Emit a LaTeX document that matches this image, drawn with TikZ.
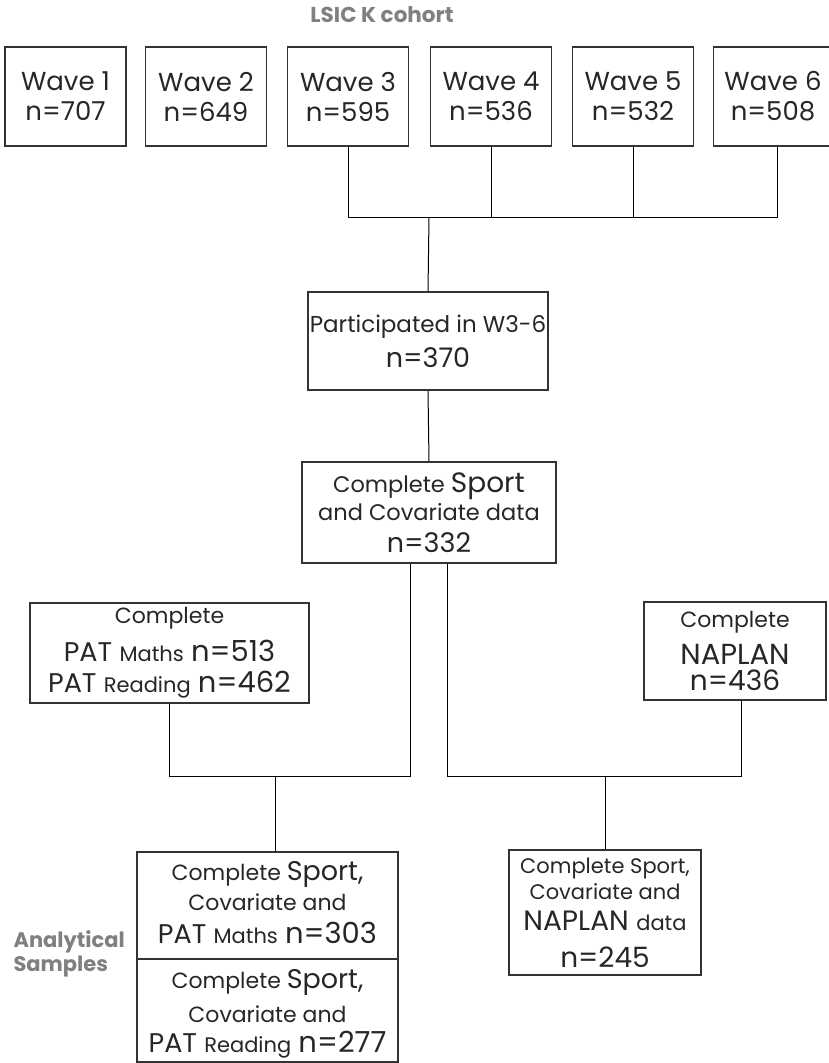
\documentclass[tikz,border=0pt]{standalone}
\usepackage{fontspec}
\setmainfont{Poppins}
\usetikzlibrary{calc}
\newcommand\fsz[1]{\fontsize{#1}{#1}\selectfont}
\begin{document}
\begin{tikzpicture}[x=1pt,y=-1pt,
  box/.style={draw=black!80, line width=1.3pt, rectangle, inner sep=0pt,
    align=center, text=black!85},
  link/.style={draw=black, line width=1pt},
  head/.style={text=black!50, font=\bfseries\fsz{21.5}}]
\clip (0,0) rectangle (829,1063);
% title
\node[head] (title) at (382,15) {LSIC K cohort};
% waves
\tikzset{wave/.style={box, minimum width=121pt, minimum height=99pt, font=\fsz{26}}}
\node[wave] (w1) at (65.5,96.5) {Wave 1\\[4pt]n=707};
\node[wave] (w2) at (206,96.5) {Wave 2\\[4pt]n=649};
\node[wave] (w3) at (348,96.5) {Wave 3\\[4pt]n=595};
\node[wave] (w4) at (491,96.5) {Wave 4\\[4pt]n=536};
\node[wave] (w5) at (633,96.5) {Wave 5\\[4pt]n=532};
\node[wave, minimum width=127pt] (w6) at (777,96.5) {\hspace*{-8pt}Wave 6\\[4pt]\hspace*{-8pt}n=508};
% bus
\coordinate (bus) at (429,217);
\draw[link] (w3.south) -- (w3.south |- bus) -- (w6.south |- bus) -- (w6.south);
\draw[link] (w4.south) -- (w4.south |- bus);
\draw[link] (w5.south) -- (w5.south |- bus);
% participated
\node[box, minimum width=240pt, minimum height=98pt] (part) at (428,341)
  {\fsz{23}Participated in W3-6\\[8pt]\fsz{27}n=370};
\draw[link] (bus) -- (part.north);
% complete sport
\node[box, minimum width=254pt, minimum height=101pt] (cs) at (429,512.5)
  {\fsz{22.5}Complete {\fsz{28}Sport}\\[3pt]\fsz{22.5}and Covariate data\\[10pt]\fsz{27}n=332};
\draw[link] (part.south) -- (cs.north);
% PAT
\node[box, minimum width=279pt, minimum height=100pt] (pat) at (169.5,653)
  {\fsz{22}Complete\\[9pt]\fsz{27}PAT {\fsz{21}Maths} {\fsz{29}n=513}\\[9pt]\fsz{27}PAT {\fsz{21}Reading} {\fsz{29}n=462}};
% NAPLAN
\node[box, minimum width=182pt, minimum height=98pt] (nap) at (735,651)
  {\fsz{22}Complete\\[10pt]\fsz{29}NAPLAN\\[4pt]\fsz{28}n=436};
% junctions
\coordinate (jl) at (410,776);
\coordinate (jr) at (447,776);
\draw[link] (cs.south -| jl) -- (jl) -- (jl -| pat.south) -- (pat.south);
\draw[link] (cs.south -| jr) -- (jr) -- ($(nap.south |- jr)+(6,0)$) -- ($(nap.south)+(6,0)$);
% analytical samples
\tikzset{anl/.style={box, minimum width=261pt}}
\node[anl, minimum height=107pt] (an1) at (267.5,905.5)
  {\fsz{22}Complete {\fsz{27}Sport,}\\[5pt]\fsz{22}Covariate and\\[11pt]\fsz{27}PAT {\fsz{21}Maths} {\fsz{29}n=303}\rule[-6pt]{0pt}{1pt}};
\node[anl, minimum height=103pt] (an2) at (267.5,1010.5)
  {\rule{0pt}{26pt}\fsz{22}Complete {\fsz{27}Sport,}\\[9pt]\fsz{22}Covariate and\\[8pt]\fsz{27}PAT {\fsz{21}Reading} {\fsz{29}n=277}};
\coordinate (jlm) at (275,776);
\draw[link] (jlm) -- (jlm |- an1.north);
\node[box, minimum width=192pt, minimum height=125pt] (nr) at (605,912.5)
  {\fsz{21}Complete Sport,\\[4pt]\fsz{21}Covariate and\\[10pt]\fsz{28}NAPLAN {\fsz{21}data}\\[15pt]\fsz{28}n=245};
\draw[link] (nr.north |- jr) -- (nr.north);
\node[head, font=\bfseries\fsz{21}, anchor=west, align=left] (lab) at (10,954) {Analytical\\[2pt]Samples};
\end{tikzpicture}
\end{document}
